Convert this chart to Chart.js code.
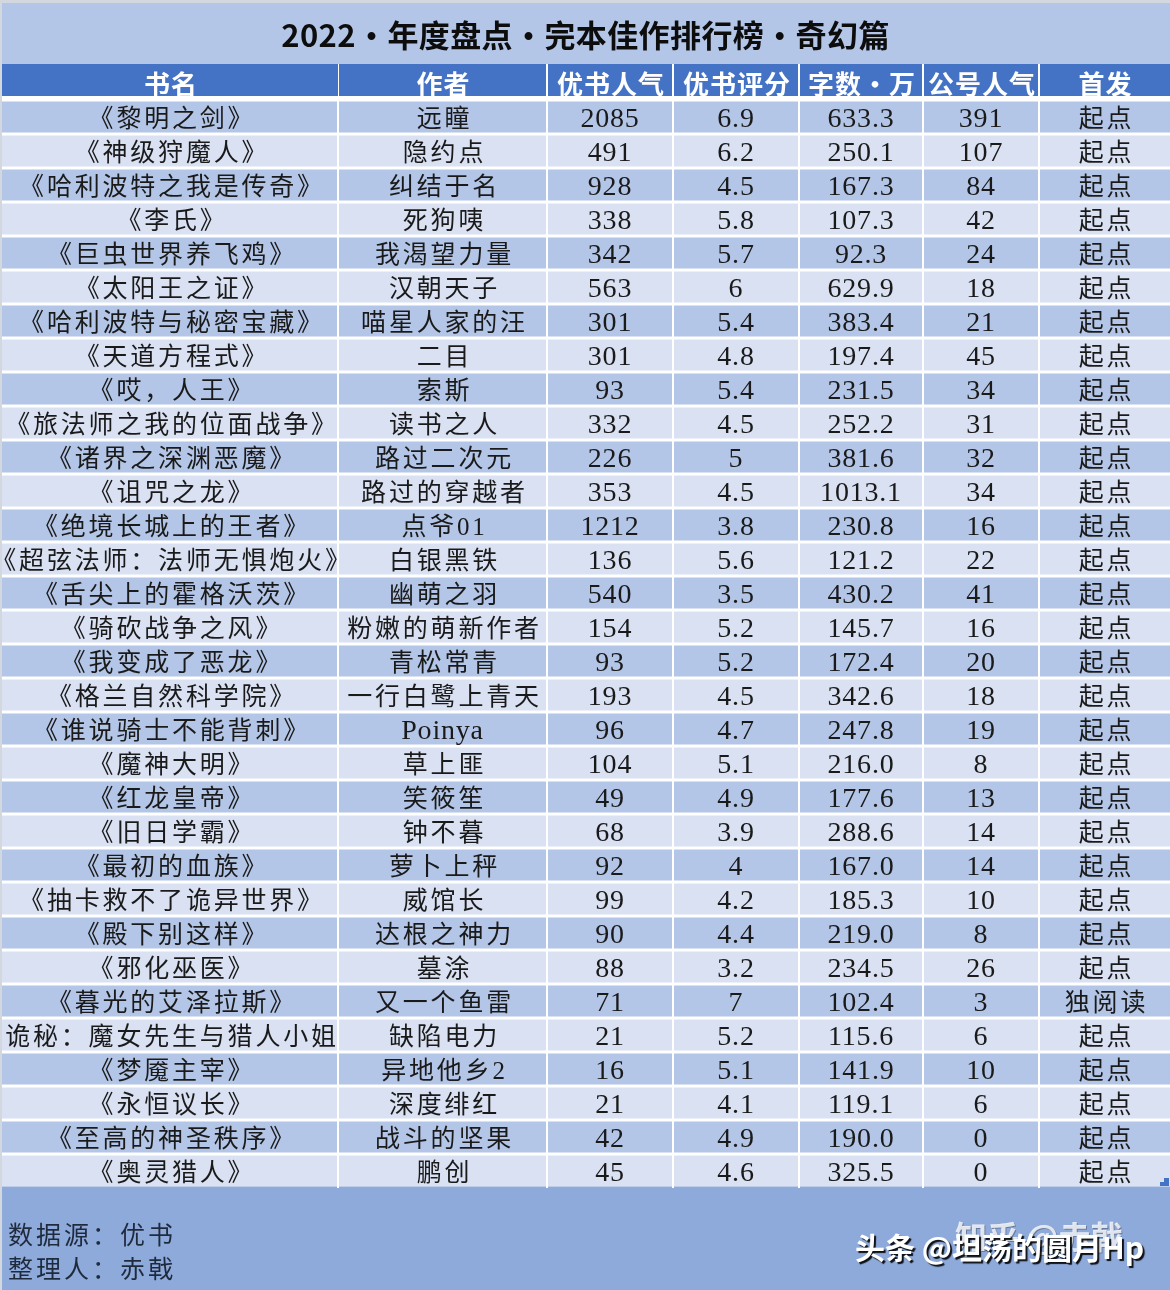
<!DOCTYPE html>
<html lang="zh">
<head>
<meta charset="utf-8">
<title>2022 年度盘点</title>
<script src="https://cdn.jsdelivr.net/npm/chart.js@4"></script>
<style>
  html, body { margin: 0; padding: 0; background: #d3d7de; }
  canvas { display: block; }
</style>
</head>
<body>
<canvas id="rank-chart" width="1170" height="1290"></canvas>
<script>
const titleText = "2022・年度盘点・完本佳作排行榜・奇幻篇";
const headers = ["书名", "作者", "优书人气", "优书评分", "字数・万", "公号人气", "首发"];
const books = [
  "《黎明之剑》", "《神级狩魔人》", "《哈利波特之我是传奇》", "《李氏》", "《巨虫世界养飞鸡》", "《太阳王之证》",
  "《哈利波特与秘密宝藏》", "《天道方程式》", "《哎，人王》", "《旅法师之我的位面战争》", "《诸界之深渊恶魔》",
  "《诅咒之龙》", "《绝境长城上的王者》", "《超弦法师：法师无惧炮火》", "《舌尖上的霍格沃茨》", "《骑砍战争之风》",
  "《我变成了恶龙》", "《格兰自然科学院》", "《谁说骑士不能背刺》", "《魔神大明》", "《红龙皇帝》", "《旧日学霸》",
  "《最初的血族》", "《抽卡救不了诡异世界》", "《殿下别这样》", "《邪化巫医》", "《暮光的艾泽拉斯》",
  "诡秘：魔女先生与猎人小姐", "《梦魇主宰》", "《永恒议长》", "《至高的神圣秩序》", "《奥灵猎人》",
];
const authors = [
  "远瞳", "隐约点", "纠结于名", "死狗咦", "我渴望力量", "汉朝天子", "喵星人家的汪", "二目", "索斯", "读书之人",
  "路过二次元", "路过的穿越者", "点爷01", "白银黑铁", "幽萌之羽", "粉嫩的萌新作者", "青松常青", "一行白鹭上青天",
  "Poinya", "草上匪", "笑筱笙", "钟不暮", "萝卜上秤", "威馆长", "达根之神力", "墓涂", "又一个鱼雷", "缺陷电力",
  "异地他乡2", "深度绯红", "战斗的坚果", "鹏创",
];
const youshuPopularity = [2085, 491, 928, 338, 342, 563, 301, 301, 93, 332, 226, 353, 1212, 136, 540, 154, 93, 193, 96, 104, 49, 68, 92, 99, 90, 88, 71, 21, 16, 21, 42, 45];
const youshuScore = [6.9, 6.2, 4.5, 5.8, 5.7, 6, 5.4, 4.8, 5.4, 4.5, 5, 4.5, 3.8, 5.6, 3.5, 5.2, 5.2, 4.5, 4.7, 5.1, 4.9, 3.9, 4, 4.2, 4.4, 3.2, 7, 5.2, 5.1, 4.1, 4.9, 4.6];
const wordCount = [633.3, 250.1, 167.3, 107.3, 92.3, 629.9, 383.4, 197.4, 231.5, 252.2, 381.6, 1013.1, 230.8, 121.2, 430.2, 145.7, 172.4, 342.6, 247.8, 216.0, 177.6, 288.6, 167.0, 185.3, 219.0, 234.5, 102.4, 115.6, 141.9, 119.1, 190.0, 325.5];
const wechatPopularity = [391, 107, 84, 42, 24, 18, 21, 45, 34, 31, 32, 34, 16, 22, 41, 16, 20, 18, 19, 8, 13, 14, 14, 10, 8, 26, 3, 6, 10, 6, 0, 0];
const platforms = books.map((b, i) => (i === 26 ? "独阅读" : "起点"));

// 每列的文字
const columns = [
  books,
  authors,
  youshuPopularity.map(String),
  youshuScore.map(String),
  wordCount.map((v) => v.toFixed(1)),
  wechatPopularity.map(String),
  platforms,
];

// 列边界，x 轴单位就是像素
const colEdges = [2, 338, 547, 673, 799, 923, 1039, 1170];
const cjkFont = '"Liberation Serif", "Noto Sans CJK SC"';

function drawText(ctx, text, x, y, font, color, spacing) {
  ctx.font = font;
  ctx.fillStyle = color;
  ctx.letterSpacing = (spacing || 0) + "px";
  ctx.fillText(text, x, y);
  ctx.letterSpacing = "0px";
}

// 背景、表头、页脚
const bandsPlugin = {
  id: "bands",
  beforeDatasetsDraw(chart) {
    const { ctx, width, chartArea, scales } = chart;
    ctx.save();
    ctx.fillStyle = "#b4c6e7";
    ctx.fillRect(2, 3, width - 2, 61);
    ctx.fillStyle = "#ffffff";
    ctx.fillRect(2, 64, width - 2, chartArea.bottom - 64);
    ctx.fillStyle = "#4472c4";
    colEdges.slice(0, -1).forEach((edge, i) => {
      const left = scales.x.getPixelForValue(edge);
      const right = scales.x.getPixelForValue(colEdges[i + 1]);
      ctx.fillRect(left + (i ? 1 : 0), 64, right - left - (i ? 2 : 0) + (i === 6 ? 1 : 0), 32);
    });
    ctx.restore();
  },
  afterDatasetsDraw(chart) {
    const { ctx, width, height, chartArea, scales } = chart;
    ctx.save();
    ctx.textBaseline = "middle";
    ctx.textAlign = "center";

    // 页脚
    ctx.fillStyle = "#8eaadb";
    ctx.fillRect(2, chartArea.bottom - 1.5, width - 2, height - chartArea.bottom + 1.5);
    ctx.fillStyle = "#ffffff";
    colEdges.slice(1, -1).forEach((edge) => {
      ctx.fillRect(scales.x.getPixelForValue(edge) - 1, chartArea.bottom - 2, 2, 2);
    });

    // 右下角的表格手柄
    ctx.fillStyle = "#4472c4";
    ctx.fillRect(1164, 1178, 5, 8);
    ctx.fillRect(1160, 1182, 4, 4);

    drawText(ctx, titleText, width / 2 + 0.5, 35, 'bold 31px "Noto Sans CJK SC"', "#0d0d0d", 0.4);

    // 表头（下边被裁掉一点）
    ctx.save();
    ctx.beginPath();
    ctx.rect(0, 64, width, 32);
    ctx.clip();
    headers.forEach((h, c) => {
      const x = scales.x.getPixelForValue((colEdges[c] + colEdges[c + 1]) / 2);
      drawText(ctx, h, x + 1, 84, 'bold 26px "Noto Sans CJK SC"', "#ffffff", 1);
    });
    ctx.restore();

    // 单元格文字
    columns.forEach((col, c) => {
      const x = scales.x.getPixelForValue((colEdges[c] + colEdges[c + 1]) / 2);
      col.forEach((text, r) => {
        const y = scales.y.getPixelForValue(r) + 3;
        if (/^[\x00-\x7f]+$/.test(text)) {
          // 数字和英文
          drawText(ctx, text, x, y, '28px "Liberation Serif"', "#1a1a1a", 0.8);
        } else {
          drawText(ctx, text, x + 2, y, "25px " + cjkFont, "#1a1a1a", 2.8);
        }
      });
    });

    // 来源
    ctx.textAlign = "left";
    drawText(ctx, "数据源：优书", 8, 1237, "25px " + cjkFont, "#1f2a3c", 3);
    drawText(ctx, "整理人：赤戟", 8, 1271, "25px " + cjkFont, "#1f2a3c", 3);

    // 水印
    ctx.shadowColor = "rgba(0,0,0,0.35)";
    ctx.shadowOffsetX = 1;
    ctx.shadowOffsetY = 1;
    drawText(ctx, "知乎 @赤戟", 955, 1237, 'bold 32px "Noto Sans CJK SC"', "rgba(255,255,255,0.8)", 0);
    ctx.shadowColor = "rgba(0,0,0,0.9)";
    ctx.shadowOffsetX = 2;
    ctx.shadowOffsetY = 2;
    ctx.shadowBlur = 1;
    drawText(ctx, "头条 @坦荡的圆月Hp", 855, 1248, 'bold 30px "Noto Sans CJK SC"', "#ffffff", 0);
    ctx.restore();
  },
};

new Chart(document.getElementById("rank-chart").getContext("2d"), {
  type: "bar",
  data: {
    labels: books,
    datasets: columns.map((col, c) => ({
      label: headers[c],
      // 每个单元格就是一段浮动的横条
      data: col.map(() => [colEdges[c] + (c ? 1 : 0), colEdges[c + 1] - (c === 6 ? 0 : 1)]),
      backgroundColor: col.map((_, r) => (r % 2 === 0 ? "#b4c6e7" : "#d9e1f2")),
      grouped: false,
      categoryPercentage: 1,
      barPercentage: 0.91,
      borderWidth: 0,
    })),
  },
  options: {
    indexAxis: "y",
    responsive: false,
    animation: false,
    devicePixelRatio: 1,
    layout: { padding: { top: 100, bottom: 102, left: 0, right: 0 } },
    plugins: { legend: { display: false }, tooltip: { enabled: false }, title: { display: false } },
    scales: {
      x: { type: "linear", min: 0, max: 1170, display: false },
      y: { type: "category", display: false },
    },
  },
  plugins: [bandsPlugin],
});
</script>
</body>
</html>
